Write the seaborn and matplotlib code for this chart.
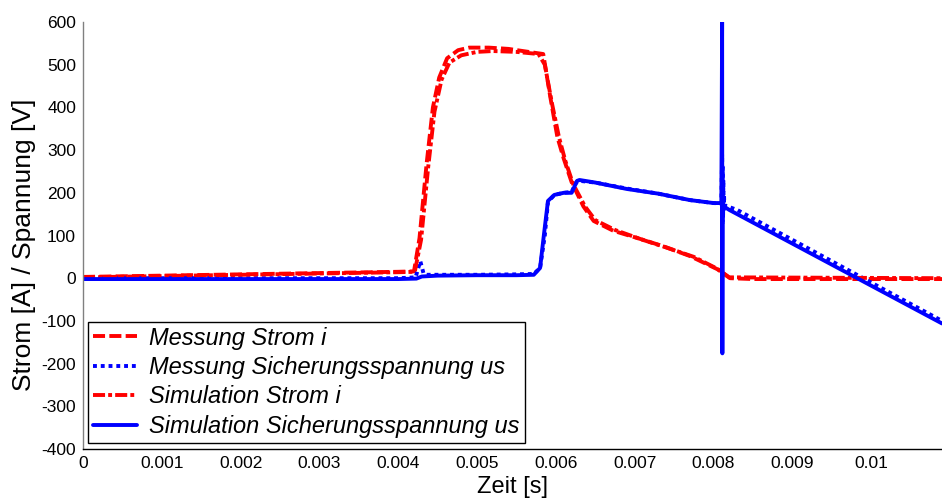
import numpy as np
import pandas as pd
import matplotlib
matplotlib.use("Agg")
import matplotlib.pyplot as plt
import seaborn as sns

# ---------------- data ----------------
t_mess_i = [0, 0.001, 0.002, 0.003, 0.004, 0.0042, 0.00427, 0.00436, 0.00444, 0.00452,
            0.00462, 0.00476, 0.0049, 0.00515, 0.0054, 0.00558, 0.00584, 0.00593, 0.00602,
            0.0061, 0.0062, 0.00635, 0.00648, 0.00673, 0.00707, 0.00736, 0.0077, 0.00805,
            0.00821, 0.0085, 0.0095, 0.0109]
i_mess = [3, 6, 9, 12, 15, 16, 94, 268, 400, 470,
          515, 534, 540, 540, 537, 532, 525, 424, 330,
          280, 225, 168, 134, 111, 92, 75, 52, 21,
          0, -2, -2, -2]

t_sim_i = [0, 0.002, 0.004, 0.00421, 0.00429, 0.00438, 0.00446, 0.00455, 0.00465, 0.0048,
           0.005, 0.0052, 0.0055, 0.00578, 0.00586, 0.00595, 0.00604, 0.00612, 0.00622,
           0.00637, 0.0065, 0.00675, 0.0071, 0.0074, 0.00775, 0.00805, 0.0082, 0.0109]
i_sim = [2, 8, 14, 15, 90, 260, 390, 465, 505, 522,
         530, 532, 530, 525, 500, 410, 330, 275, 220,
         168, 136, 113, 90, 72, 50, 22, 2, 0]

t_mess_u = [0, 0.002, 0.004, 0.00422, 0.00428, 0.00432, 0.00436, 0.0045, 0.005, 0.0055,
            0.00572, 0.0058, 0.00586, 0.0059, 0.00598, 0.0061, 0.0062, 0.00626, 0.0063,
            0.0065, 0.0069, 0.0073, 0.0077, 0.008, 0.0081,
            0.008110, 0.008114, 0.008118, 0.008122, 0.008126, 0.008130, 0.008134, 0.008138,
            0.00815, 0.0083, 0.0109]
u_mess = [0, 0, 0, 2, 40, 12, 8, 8, 8, 9,
          10, 24, 100, 178, 195, 200, 202, 225, 228,
          224, 210, 198, 183, 176, 175,
          290, 125, 260, 140, 230, 155, 195, 172,
          170, 160, -100]

t_sim_u = [0, 0.004, 0.00423, 0.0043, 0.0045, 0.005, 0.0055, 0.00572, 0.0058, 0.00585,
           0.0059, 0.00598, 0.0061, 0.0062, 0.00627, 0.0063, 0.0065, 0.0069, 0.0073,
           0.0077, 0.008, 0.0081, 0.008110, 0.008113, 0.008116, 0.0082, 0.0109]
u_sim = [-2, -2, -1, 4, 6, 7, 7, 8, 24, 104,
         181, 195, 200, 200, 228, 230, 224, 209, 198,
         183, 176, 176, 602, -176, 170, 160, -106]

labels = ["Messung Strom i", "Messung Sicherungsspannung us",
          "Simulation Strom i", "Simulation Sicherungsspannung us"]
x_ticks = [0, 0.001, 0.002, 0.003, 0.004, 0.005, 0.006, 0.007, 0.008, 0.009, 0.01]
x_ticklabels = ["0", "0.001", "0.002", "0.003", "0.004", "0.005", "0.006",
                "0.007", "0.008", "0.009", "0.01"]
y_ticks = [-400, -300, -200, -100, 0, 100, 200, 300, 400, 500, 600]

# ---------------- plot ----------------
sns.set_theme(style="white")
plt.rcParams["font.family"] = ["Liberation Sans", "DejaVu Sans"]
plt.rcParams["text.color"] = "black"
plt.rcParams["axes.labelcolor"] = "black"

fig = plt.figure(figsize=(9.42, 5.0), dpi=100)
ax = fig.add_axes([83 / 942, 1 - 449 / 500, (942 - 83) / 942, (449 - 22) / 500])

lw = 2.8
series = [
    (t_mess_i, i_mess, "#ff0000", (0, (3.1, 1.1)), labels[0]),
    (t_mess_u, u_mess, "#0000ff", (0, (1.0, 1.0)), labels[1]),
    (t_sim_i, i_sim, "#ff0000", (0, (3.1, 0.8, 1.0, 0.8)), labels[2]),
    (t_sim_u, u_sim, "#0000ff", "-", labels[3]),
]
for tx, vy, col, ls, lab in series:
    df = pd.DataFrame({"t": tx, "v": vy})
    sns.lineplot(data=df, x="t", y="v", ax=ax, color=col, linewidth=lw,
                 linestyle=ls, label=lab, sort=False, estimator=None)

ax.set_xlim(0, 0.0109)
ax.set_ylim(-400, 600)
ax.set_xticks(x_ticks)
ax.set_xticklabels(x_ticklabels)
ax.set_yticks(y_ticks)
ax.set_yticklabels([str(v) for v in y_ticks])

for s in ["top", "right"]:
    ax.spines[s].set_visible(False)
ax.spines["left"].set_color("#808080")
ax.spines["bottom"].set_color("#000000")
ax.spines["left"].set_linewidth(1.0)
ax.spines["bottom"].set_linewidth(1.0)
ax.tick_params(axis="both", direction="in", length=5, width=0.8,
               labelsize=12.5, colors="#000000", pad=5)
ax.tick_params(axis="y", color="#808080")

ax.set_xlabel("Zeit [s]", fontsize=17, labelpad=4, color="black")
ax.set_ylabel("Strom [A] / Spannung [V]", fontsize=19, labelpad=4, color="black")
ax.yaxis.label.set_y(0.478)

leg = ax.legend(loc="lower left", bbox_to_anchor=(0.006, 0.014), borderaxespad=0,
                frameon=True, fancybox=False, framealpha=1, edgecolor="black",
                prop={"style": "italic", "size": 17, "family": ["Liberation Sans"]},
                handlelength=1.85, labelspacing=0.27, borderpad=0.22, handletextpad=0.5)
leg.get_frame().set_linewidth(1.0)
for txt in leg.get_texts():
    txt.set_color("black")

fig.savefig("out.png", dpi=100)
